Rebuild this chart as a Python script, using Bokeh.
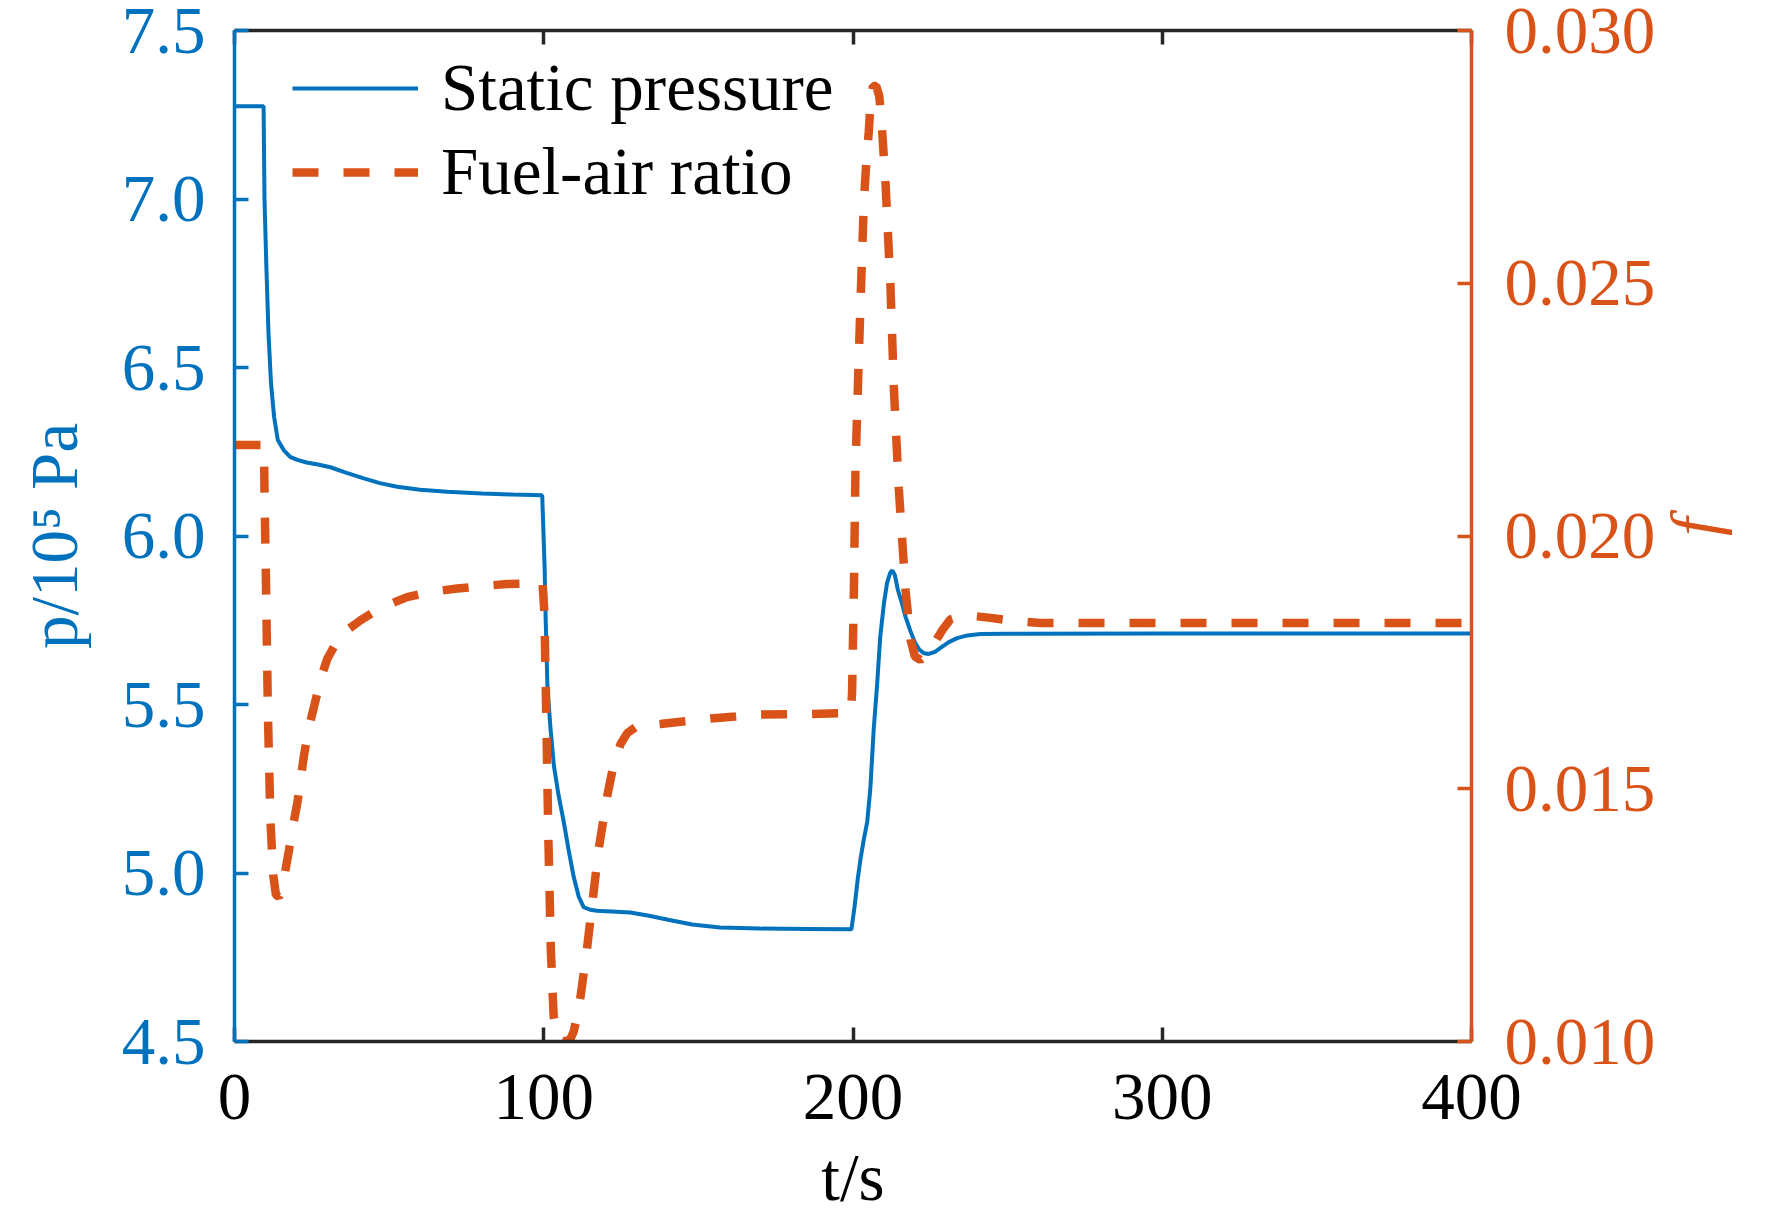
import math
from bokeh.plotting import figure
from bokeh.models import (Range1d, LinearAxis, FixedTicker, PrintfTickFormatter,
                          Legend, LegendItem, ColumnDataSource)
from bokeh.embed import file_html
from bokeh.resources import INLINE

# ---------------- data ----------------
t_pressure = [0, 9.4, 9.7, 10.3, 11.0, 11.8, 12.8, 14.0, 15.9, 18, 20.3, 23.3, 27, 31, 36,
              41.8, 47, 52.6, 60, 68.8, 80, 90, 99.5,
              100.3, 100.6, 101.2, 102.2, 103.3, 104.8, 106.5, 108, 109.7, 111.3, 112.9,
              115, 117.2, 122, 128, 134, 141, 148, 157, 170, 185, 199.5,
              200.5, 201.5, 202.4, 203.5, 204.6, 205.6, 206.7, 207.8, 208.8, 210, 211, 212,
              212.7, 213.5, 214.5, 215.8, 217, 218.6, 220, 221.5, 223, 224.5, 226.5, 228.3,
              231, 233.7, 237, 241.2, 250, 300, 350, 400]
pressure = [7.275, 7.275, 7.0, 6.80, 6.60, 6.454, 6.354, 6.285, 6.255, 6.235, 6.226, 6.218,
            6.212, 6.204, 6.188, 6.171, 6.157, 6.146, 6.137, 6.131, 6.126, 6.123, 6.121,
            5.90, 5.76, 5.55, 5.427, 5.317, 5.23, 5.15, 5.07, 4.988, 4.93, 4.899,
            4.891, 4.888, 4.886, 4.883, 4.873, 4.86, 4.847, 4.838, 4.835, 4.834, 4.833,
            4.90, 4.98, 5.04, 5.10, 5.152, 5.25, 5.427, 5.56, 5.70, 5.80, 5.86, 5.89,
            5.898, 5.885, 5.84, 5.801, 5.76, 5.717, 5.685, 5.662, 5.652, 5.650, 5.656, 5.668,
            5.685, 5.697, 5.705, 5.709, 5.710, 5.711, 5.711, 5.711]

t_fuel = [0, 9.5, 9.8, 10.2, 10.8, 11.6, 12.5, 13.4, 14.3, 15.5, 16.5, 17.6, 19, 20.3, 22.4,
          24, 25.7, 28, 30, 33, 36, 40.7, 47, 55.8, 63, 72, 80, 88.2, 99.6,
          100.2, 100.8, 101.5, 102.3, 103.2, 104.5, 106.5, 108.5, 109.7, 110.8, 111.9, 114,
          116, 117.8, 120.5, 122.5, 124.8, 127, 130.2, 137.7, 145, 153.9, 162, 170, 186.3, 199.3,
          199.7, 200.3, 200.8, 201.6, 202.4, 203.5, 204.3, 205.1, 205.8, 206.5, 207.5, 208.5,
          209.4, 210.5, 212.1, 213.2, 214.8, 217, 218.6, 220, 221.8, 223.5, 226.1, 229, 231.5,
          235, 240, 244.5, 252, 260.6, 300, 350, 400]
fuel_air = [0.0218, 0.0218, 0.0205, 0.0190, 0.0165, 0.0144, 0.0133, 0.0129, 0.01286, 0.0130,
            0.0134, 0.01378, 0.0143, 0.01471, 0.01563, 0.0162, 0.01662, 0.0172, 0.01757,
            0.0179, 0.01812, 0.01833, 0.01857, 0.01879, 0.01889, 0.01896, 0.01901, 0.01905,
            0.01907,
            0.0185, 0.0165, 0.0140, 0.0118, 0.0105, 0.01005, 0.0100, 0.01003, 0.0102, 0.0105,
            0.01089, 0.01184, 0.0129, 0.01382, 0.01485, 0.01545, 0.01588, 0.0161, 0.01624,
            0.01628, 0.01633, 0.01639, 0.01643, 0.01647, 0.01648, 0.0165,
            0.0169, 0.0190, 0.02134, 0.0230, 0.02457, 0.02659, 0.0274, 0.0280, 0.0287, 0.0289,
            0.0289, 0.0287, 0.02804, 0.0270, 0.02497, 0.02295, 0.02094, 0.01892, 0.01795,
            0.01762, 0.01755, 0.01762, 0.01786, 0.01815, 0.01835, 0.01842, 0.01841, 0.01838,
            0.01832, 0.01828, 0.01828, 0.01828, 0.01828]

x_ticks = [0, 100, 200, 300, 400]
p_ticks = [4.5, 5.0, 5.5, 6.0, 6.5, 7.0, 7.5]
f_ticks = [0.010, 0.015, 0.020, 0.025, 0.030]
series_names = ["Static pressure", "Fuel-air ratio"]
x_title = "t/s"
p_title = "p/10\u2075 Pa"
f_title = "f"
f_title_at = 0.020

# ---------------- style ----------------
BLUE = "#0072BD"
ORANGE = "#D95319"
DARK = "#262626"
FONT = "Liberation Serif"
FS = "67px"

W, H = 1772, 1220
FL, FR, FT, FB = 234, 1471, 30, 1041

p = figure(width=W, height=H, output_backend="svg", toolbar_location=None,
           x_range=Range1d(0, 400), y_range=Range1d(4.5, 7.5),
           x_axis_type=None, y_axis_type=None,
           min_border_left=FL, min_border_right=W - FR,
           min_border_top=FT, min_border_bottom=H - FB)
p.extra_y_ranges = {"f": Range1d(0.010, 0.030)}
p.outline_line_color = None
p.background_fill_color = "white"
p.border_fill_color = "white"
for g in p.grid:
    g.visible = False


def style_axis(ax, color, ticks, label_color, standoff):
    ax.ticker = FixedTicker(ticks=ticks)
    ax.axis_line_color = color
    ax.axis_line_width = 3.5
    ax.major_tick_line_color = color
    ax.major_tick_line_width = 3.5
    ax.major_tick_in = 14
    ax.major_tick_out = 0
    ax.minor_tick_line_color = None
    ax.major_label_text_font = FONT
    ax.major_label_text_font_size = FS
    ax.major_label_text_color = label_color
    ax.major_label_standoff = standoff


def style_title(ax, text, color, standoff, italic=False):
    ax.axis_label = text
    ax.axis_label_text_font = FONT
    ax.axis_label_text_font_size = FS
    ax.axis_label_text_color = color
    ax.axis_label_text_font_style = "italic" if italic else "normal"
    ax.axis_label_standoff = standoff


bottom = LinearAxis()
style_axis(bottom, DARK, x_ticks, "black", 33)
style_title(bottom, x_title, "black", 18)
p.add_layout(bottom, "below")

top = LinearAxis()
style_axis(top, DARK, x_ticks, None, 0)
top.major_label_text_font_size = "1px"
p.add_layout(top, "above")

left = LinearAxis(formatter=PrintfTickFormatter(format="%.1f"))
style_axis(left, BLUE, p_ticks, BLUE, 29)
style_title(left, p_title, BLUE, 28)
p.add_layout(left, "left")

right = LinearAxis(y_range_name="f", formatter=PrintfTickFormatter(format="%.3f"))
style_axis(right, ORANGE, f_ticks, ORANGE, 33)
p.add_layout(right, "right")

# right-hand title "f" (italic, reads bottom to top) as the single label of a bare axis
f_axis = LinearAxis(y_range_name="f", ticker=FixedTicker(ticks=[f_title_at]),
                    major_label_overrides={f_title_at: f_title})
f_axis.axis_line_color = None
f_axis.major_tick_line_color = None
f_axis.minor_tick_line_color = None
f_axis.major_tick_in = 0
f_axis.major_tick_out = 0
f_axis.major_label_text_font = FONT
f_axis.major_label_text_font_size = FS
f_axis.major_label_text_font_style = "italic"
f_axis.major_label_text_color = ORANGE
f_axis.major_label_orientation = math.pi / 2
f_axis.major_label_standoff = 36
p.add_layout(f_axis, "right")

src_p = ColumnDataSource(dict(t=t_pressure, v=pressure))
src_f = ColumnDataSource(dict(t=t_fuel, v=fuel_air))
r_p = p.line("t", "v", source=src_p, line_color=BLUE, line_width=4)
r_f = p.line("t", "v", source=src_f, y_range_name="f", line_color=ORANGE,
             line_width=8.5, line_dash="26 25")

legend = Legend(items=[LegendItem(label=series_names[0], renderers=[r_p]),
                       LegendItem(label=series_names[1], renderers=[r_f])],
                location=(58, 831), margin=0, padding=0, spacing=7,
                glyph_width=126, glyph_height=70, label_height=70, label_standoff=23,
                label_text_font=FONT, label_text_font_size=FS, label_text_color="black",
                background_fill_alpha=0, border_line_color=None)
p.add_layout(legend)

open("out.html", "w").write(file_html(p, INLINE))
